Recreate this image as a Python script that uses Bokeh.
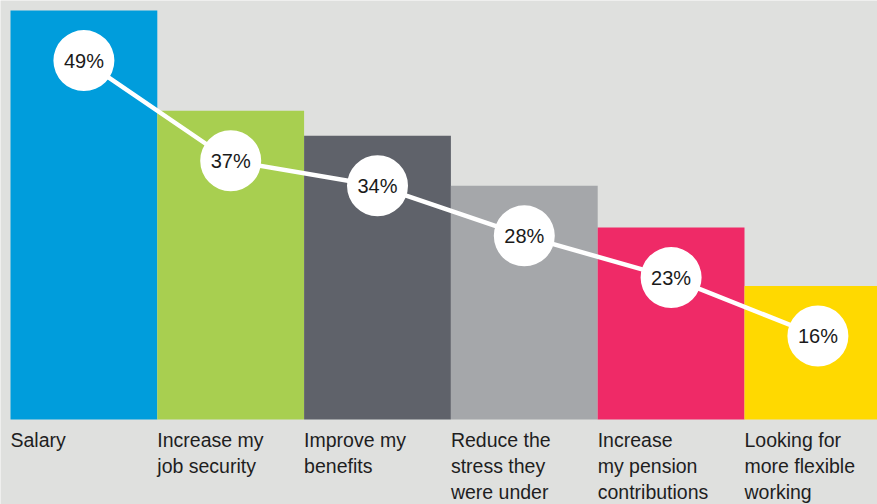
from bokeh.plotting import figure
from bokeh.models import ColumnDataSource, Range1d
from bokeh.core.properties import value
from bokeh.embed import file_html
from bokeh.resources import INLINE

# ---- data ----
categories = [
    "Salary",
    "Increase my\njob security",
    "Improve my\nbenefits",
    "Reduce the\nstress they\nwere under",
    "Increase\nmy pension\ncontributions",
    "Looking for\nmore flexible\nworking",
]
percent = [49, 37, 34, 28, 23, 16]
bar_colors = ["#009ddc", "#a8cf50", "#5f626a", "#a5a7aa", "#ef2a67", "#ffd900"]

BG = "#dfe0de"
FONT = "Liberation Sans"
MARKER_DROP = 6  # circles sit a little below each bar top

xs = list(range(len(categories)))
src = ColumnDataSource(dict(
    x=xs,
    left=[x - 0.5 for x in xs],
    top=percent,
    color=bar_colors,
    cat=categories,
    cy=[v - MARKER_DROP for v in percent],
    lab=[f"{v}%" for v in percent],
))

W, H = 877, 504
PXX = 146.8   # pixels per category
PXY = 8.347   # pixels per percent
x0 = -0.5 - 10 / PXX
y1 = 49 + 10 / PXY
p = figure(width=W, height=H, output_backend="svg", toolbar_location=None,
           x_range=Range1d(x0, x0 + W / PXX),
           y_range=Range1d(y1 - H / PXY, y1),
           min_border=0, background_fill_color=BG, border_fill_color=BG,
           outline_line_color=None)
p.axis.visible = False
p.grid.visible = False

p.vbar(x="x", top="top", bottom=0, width=1.0, fill_color="color",
       line_color=None, source=src)

p.line(x="x", y="cy", line_color="white", line_width=4.5, source=src)
p.scatter(x="x", y="cy", size=61, fill_color="white", line_color=None,
          source=src)
p.text(x="x", y="cy", text="lab", text_align="center", text_baseline="middle",
       text_font=value(FONT), text_font_size="20px", text_color="#1a1a1a",
       source=src)

p.text(x="left", y=0, text="cat", text_align="left", text_baseline="top",
       x_offset=0, y_offset=9, text_line_height=1.2,
       text_font=value(FONT), text_font_size="19.5px", text_color="#1e1e1e",
       source=src)

open("out.html", "w").write(file_html(p, INLINE))
